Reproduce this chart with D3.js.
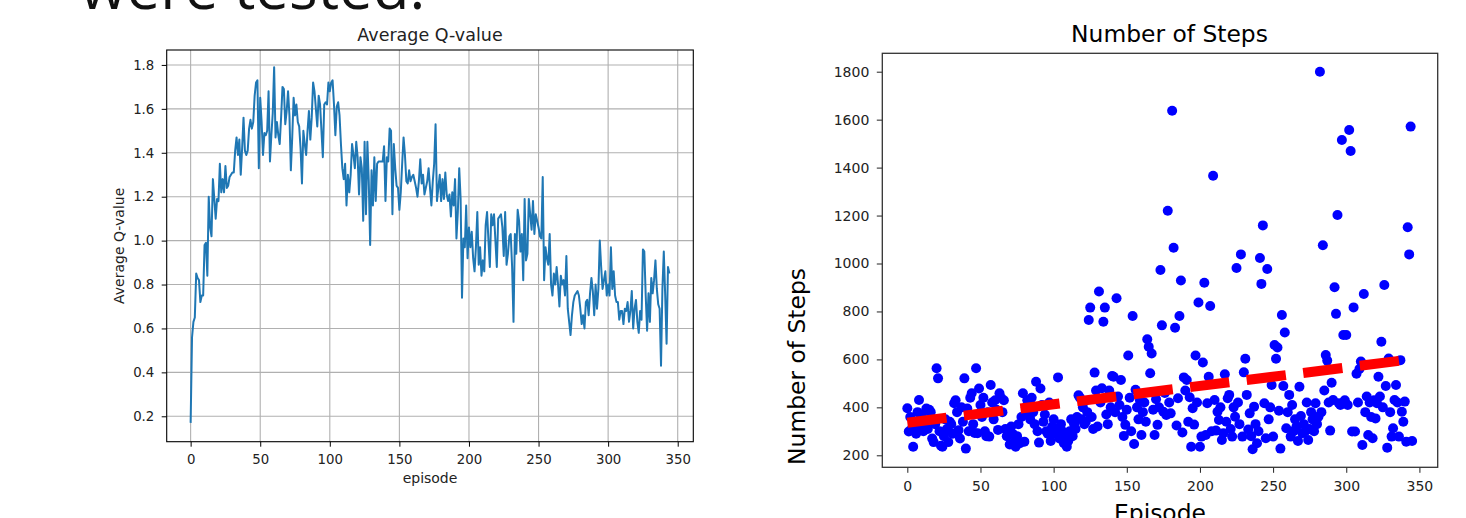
<!DOCTYPE html>
<html><head><meta charset="utf-8">
<script src="https://cdn.jsdelivr.net/npm/d3@7"></script>
<style>body{margin:0;background:#fff}svg{display:block}text{font-family:"DejaVu Sans",sans-serif}</style>
</head><body>
<svg id="c" width="1466" height="518"></svg>
<script>
// ---------- data ----------
const qValues = [
0.17,0.56,0.63,0.65,0.85,0.83,0.82,0.72,0.75,0.75,
0.98,0.99,0.84,1.20,1.06,1.02,1.28,1.19,1.10,1.19,
1.18,1.35,1.22,1.28,1.22,1.34,1.24,1.25,1.29,1.30,
1.31,1.31,1.41,1.47,1.39,1.46,1.30,1.42,1.56,1.41,
1.39,1.41,1.51,1.55,1.51,1.54,1.66,1.72,1.73,1.33,
1.65,1.54,1.39,1.49,1.48,1.50,1.68,1.36,1.48,1.58,
1.79,1.47,1.54,1.48,1.44,1.56,1.70,1.69,1.53,1.59,
1.68,1.57,1.32,1.47,1.65,1.57,1.62,1.54,1.52,1.42,
1.26,1.50,1.44,1.39,1.50,1.59,1.46,1.56,1.72,1.68,
1.60,1.52,1.66,1.62,1.50,1.38,1.62,1.63,1.62,1.72,
1.68,1.72,1.73,1.62,1.48,1.61,1.63,1.57,1.44,1.33,
1.28,1.35,1.16,1.30,1.22,1.30,1.44,1.39,1.33,1.45,
1.38,1.21,1.38,1.33,1.09,1.45,1.12,1.45,1.27,0.98,
1.32,1.16,1.38,1.18,1.35,1.36,1.36,1.36,1.36,1.43,
1.18,1.38,1.36,1.51,1.50,1.12,1.44,1.33,1.25,1.24,
1.14,1.22,1.35,1.47,1.39,1.27,1.26,1.32,1.27,1.29,
1.30,1.27,1.24,1.20,1.27,1.37,1.26,1.30,1.21,1.24,
1.27,1.33,1.24,1.16,1.27,1.35,1.53,1.18,1.24,1.30,
1.18,1.28,1.19,1.31,1.21,1.18,1.21,1.11,1.22,1.16,
1.28,1.01,1.13,1.33,1.19,0.74,1.01,0.97,1.16,0.92,
1.06,0.97,1.04,0.92,0.86,0.97,1.13,0.89,0.97,0.84,
0.91,0.86,1.07,1.13,1.00,0.88,1.12,1.07,1.12,1.00,
0.88,1.10,1.11,1.12,1.06,0.93,1.13,0.89,0.94,1.02,
1.03,0.88,0.63,1.03,0.94,1.14,1.09,0.95,1.03,0.82,
1.19,0.91,0.94,1.19,1.12,1.05,1.18,1.03,1.12,1.09,
1.06,1.02,1.01,1.29,0.82,0.97,0.92,0.89,1.03,0.80,
0.75,0.85,0.80,0.88,0.80,0.70,0.84,0.80,0.82,0.75,
0.93,0.69,0.63,0.57,0.66,0.72,0.75,0.76,0.77,0.75,
0.69,0.62,0.66,0.60,0.72,0.73,0.66,0.76,0.83,0.77,
0.66,0.80,0.69,0.78,1.00,0.88,0.78,0.82,0.86,0.75,
0.80,0.75,0.97,0.78,0.86,0.75,0.72,0.72,0.64,0.68,
0.68,0.62,0.69,0.68,0.72,0.63,0.68,0.77,0.60,0.69,
0.73,0.63,0.58,0.68,0.64,0.96,0.95,0.75,0.59,0.76,
0.63,0.83,0.76,0.82,0.91,0.78,0.71,0.69,0.43,0.78,
0.95,0.75,0.53,0.88,0.85
];
const steps = [
396,299,360,310,236,340,290,380,431,320,
370,300,345,395,310,390,380,270,255,330,
563,521,300,240,236,280,350,310,255,340,
330,290,417,430,380,305,270,400,340,521,
228,395,300,440,459,330,293,563,292,479,
410,360,440,300,280,380,278,493,420,350,
430,390,306,459,440,380,430,310,280,300,
245,320,290,255,236,280,330,250,360,459,
257,400,430,370,350,440,380,330,507,300,
253,479,410,340,370,300,290,420,260,320,
350,290,310,525,270,330,300,250,280,236,
260,300,350,280,330,310,360,450,440,350,
400,330,340,380,764,816,360,310,545,470,
320,883,420,480,757,816,370,330,470,400,
531,528,380,855,445,410,514,360,281,327,
390,616,440,300,781,247,473,400,350,430,
285,380,420,340,684,653,542,625,390,285,
434,327,400,973,742,382,460,368,1220,420,
375,1637,1066,732,324,438,781,929,295,525,
470,514,340,442,236,396,328,616,420,837,
236,278,587,920,285,417,528,823,300,1366,
431,303,382,347,400,264,292,538,340,438,
452,310,278,400,361,981,420,330,1038,278,
546,603,452,308,375,280,225,403,330,250,
300,1023,915,1159,417,271,977,350,400,493,
278,660,603,650,386,228,785,489,712,313,
380,452,278,410,300,350,320,260,486,364,
292,330,300,420,264,310,380,350,300,417,
330,361,1800,380,1076,470,618,595,420,303,
503,431,901,790,1202,417,410,1515,702,430,
702,410,1557,1469,299,817,299,540,420,560,
591,243,873,380,445,285,420,360,271,430,
354,417,528,445,674,400,910,489,232,604,
380,278,313,431,493,420,278,597,382,340,
424,257,1151,1038,1571,260
];
const trendEpisodes = [0, 344];
const trendSteps = [336, 600];
const qXTicks = [0,50,100,150,200,250,300,350];
const qYTicks = [0.2,0.4,0.6,0.8,1.0,1.2,1.4,1.6,1.8];
const sXTicks = [0,50,100,150,200,250,300,350];
const sYTicks = [200,400,600,800,1000,1200,1400,1600,1800];

const svg = d3.select('#c');

// top slide text
svg.append('text').attr('x',80).attr('y',8.5).attr('font-size',60)
  .style('font-family','"Open Sans",sans-serif').attr('fill','#111').text('were tested.');

// ---------- left chart ----------
const L = {l:166.7, r:693.3, t:50, b:441.7};
const xL = d3.scaleLinear().domain([-17.2, 361.2]).range([L.l, L.r]);
const yL = d3.scaleLinear().domain([0.0843, 1.868]).range([L.b, L.t]);
const gL = svg.append('g');
gL.append('g').selectAll('line').data(qXTicks).join('line')
  .attr('x1',d=>xL(d)).attr('x2',d=>xL(d)).attr('y1',L.t).attr('y2',L.b)
  .attr('stroke','#b0b0b0').attr('stroke-width',1.1);
gL.append('g').selectAll('line').data(qYTicks).join('line')
  .attr('y1',d=>yL(d)).attr('y2',d=>yL(d)).attr('x1',L.l).attr('x2',L.r)
  .attr('stroke','#b0b0b0').attr('stroke-width',1.1);
gL.append('path').datum(qValues)
  .attr('d', d3.line().x((d,i)=>xL(i)).y(d=>yL(d)))
  .attr('fill','none').attr('stroke','#1f77b4').attr('stroke-width',2).attr('stroke-linejoin','round');
const axL = gL.append('g').attr('transform',`translate(0,${L.b})`)
  .call(d3.axisBottom(xL).tickValues(qXTicks).tickSize(5).tickPadding(7.6).tickSizeOuter(0));
const ayL = gL.append('g').attr('transform',`translate(${L.l},0)`)
  .call(d3.axisLeft(yL).tickValues(qYTicks).tickFormat(d3.format('.1f')).tickSize(5).tickPadding(7.4).tickSizeOuter(0));
[axL, ayL].forEach(a=>{a.select('.domain').remove();
  a.selectAll('text').attr('font-size',13.3).attr('fill','#222').style('font-family','"DejaVu Sans"');
  a.selectAll('line').attr('stroke','#000');});
gL.append('rect').attr('x',L.l).attr('y',L.t).attr('width',L.r-L.l).attr('height',L.b-L.t)
  .attr('fill','none').attr('stroke','#000').attr('stroke-width',1.1);
gL.append('text').attr('x',(L.l+L.r)/2).attr('y',40.5).attr('text-anchor','middle')
  .attr('font-size',17.5).attr('fill','#222').text('Average Q-value');
gL.append('text').attr('x',(L.l+L.r)/2).attr('y',483.3).attr('text-anchor','middle')
  .attr('font-size',14).attr('fill','#222').text('episode');
gL.append('text').attr('transform',`translate(123.5,${(L.t+L.b)/2}) rotate(-90)`).attr('text-anchor','middle')
  .attr('font-size',14).attr('fill','#222').text('Average Q-value');

// ---------- right chart ----------
const R = {l:882.3, r:1437.7, t:53.3, b:467.3};
const xR = d3.scaleLinear().domain([-17.1, 362.5]).range([R.l, R.r]);
const yR = d3.scaleLinear().domain([150, 1876.7]).range([R.b, R.t]);
const gR = svg.append('g');
gR.append('g').selectAll('circle').data(steps).join('circle')
  .attr('cx',(d,i)=>xR(i)).attr('cy',d=>yR(d)).attr('r',5).attr('fill','#0000ff');
gR.append('path').datum(trendEpisodes.map((e,i)=>[e,trendSteps[i]]))
  .attr('d', d3.line().x(d=>xR(d[0])).y(d=>yR(d[1])))
  .attr('fill','none').attr('stroke','#ff0000').attr('stroke-width',10).attr('stroke-dasharray','39.5,17.5');
const axR = gR.append('g').attr('transform',`translate(0,${R.b})`)
  .call(d3.axisBottom(xR).tickValues(sXTicks).tickFormat(d3.format('d')).tickSize(5.5).tickPadding(8).tickSizeOuter(0));
const ayR = gR.append('g').attr('transform',`translate(${R.l},0)`)
  .call(d3.axisLeft(yR).tickValues(sYTicks).tickFormat(d3.format('d')).tickSize(5.5).tickPadding(7.5).tickSizeOuter(0));
[axR, ayR].forEach(a=>{a.select('.domain').remove();
  a.selectAll('text').attr('font-size',14).attr('fill','#222').style('font-family','"DejaVu Sans"');
  a.selectAll('line').attr('stroke','#222');});
gR.append('rect').attr('x',R.l).attr('y',R.t).attr('width',R.r-R.l).attr('height',R.b-R.t)
  .attr('fill','none').attr('stroke','#333').attr('stroke-width',1.3);
gR.append('text').attr('x',1169.5).attr('y',41.5).attr('text-anchor','middle')
  .attr('font-size',23.4).attr('fill','#000').text('Number of Steps');
gR.append('text').attr('x',(R.l+R.r)/2).attr('y',520.5).attr('text-anchor','middle')
  .attr('font-size',23.4).attr('fill','#000').text('Episode');
gR.append('text').attr('transform',`translate(805,366.5) rotate(-90)`).attr('text-anchor','middle')
  .attr('font-size',23.4).attr('fill','#000').text('Number of Steps');
</script>
</body></html>
